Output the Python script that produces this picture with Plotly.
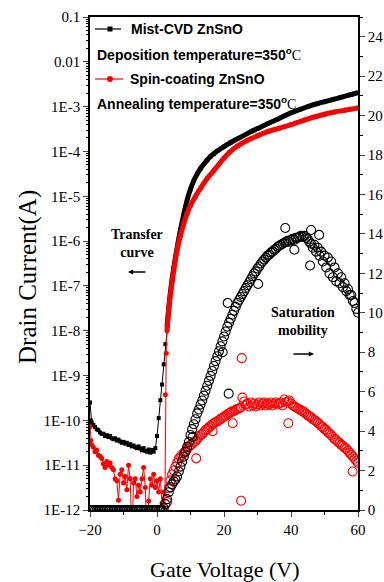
import plotly.graph_objects as go

SERIF = "Liberation Serif, Times New Roman, serif"
SANS = "Liberation Sans, Arial, sans-serif"

# ---------------- Transfer curves (left axis, log10 of drain current in A) ----------------
mist_vg = [-20, -19.75, -19.5, -19, -18.5, -18, -17.5, -17, -16.5, -16,
           -15.5, -15, -14.5, -14, -13.5, -13, -12.5, -12, -11.5, -11,
           -10.5, -10, -9.5, -9, -8.5, -8, -7.5, -7, -6.5, -6,
           -5.5, -5, -4.5, -4, -3.5, -3, -2.5, -2, -1.5, -1,
           -0.5, 0, 0.5, 1, 1.5, 2, 2.5, 3, 3.5, 4, 4.5, 5,
           6, 7, 8, 9, 10, 11, 12, 13, 14, 15,
           16, 17, 18, 20, 22, 25, 28, 30, 33, 36, 40, 42.5, 45, 48, 50, 52.5, 55, 58, 60]
mist_log_id = [-9.6, -10.0,
               -10.05, -10.1, -10.15, -10.2, -10.22, -10.27, -10.3, -10.3, -10.35, -10.33,
               -10.37, -10.35, -10.4, -10.42, -10.4, -10.45, -10.43, -10.47, -10.5, -10.48,
               -10.52, -10.5, -10.55, -10.53, -10.58, -10.56, -10.6, -10.62, -10.58, -10.63,
               -10.67, -10.62, -10.68, -10.7, -10.65, -10.72, -10.66, -10.7, -10.62, -10.35,
               -9.95, -9.55, -9.2, -8.75, -8.3, -7.9, -7.5, -7.15, -6.85, -6.6,
               -6.15, -5.75, -5.4, -5.08, -4.84, -4.65, -4.5, -4.38, -4.28, -4.19,
               -4.11, -4.05, -3.99, -3.89, -3.8, -3.68, -3.56, -3.49, -3.38, -3.28, -3.14, -3.07,
               -3.0, -2.93, -2.89, -2.84, -2.79, -2.73, -2.69]

spin_vg = [-20, -19.75, -19.5, -19, -18.5, -18, -17.5, -17, -16.5, -16,
           -15.5, -15, -14.5, -14, -13.5, -13, -12.5, -12, -11.5, -11,
           -10.5, -10, -9.5, -9, -8.5, -8, -7.5, -7, -6.5, -6,
           -5.5, -5, -4.5, -4, -3.5, -3, -2.5, -2, -1.5, -1,
           -0.5, 0, 0.5, 1, 1.5, 2, 2.25, 2.5, 2.75, 3,
           3.5, 4, 4.5, 5, 6, 7, 8, 9, 10, 11.5,
           13, 15, 17, 20, 21.6, 24, 27, 30, 33, 36.5,
           40, 44, 47.5, 50, 53, 56, 60]
spin_log_id = [-10.14, -10.45, -10.55, -10.6, -10.7, -10.66, -10.78, -10.8, -10.85, -10.97,
               -11.05, -10.92, -11.0, -10.95, -11.05, -11.1, -11.3, -11.35, -11.78, -11.2,
               -11.1, -11.4, -11.25, -11.55, -11.0, -11.3, -12.6, -11.4, -11.3, -11.7,
               -11.45, -11.6, -11.3, -11.05, -11.5, -12.6, -11.8, -11.3, -11.45, -11.2,
               -11.5, -11.35, -11.6, -11.3, -11.85, -11.6, -12.8, -9.43, -8.5, -8.0,
               -7.55, -7.2, -6.9, -6.65, -6.2, -5.88, -5.6, -5.38, -5.2, -5.0,
               -4.82, -4.6, -4.42, -4.15, -4.02, -3.88, -3.75, -3.65, -3.56, -3.48,
               -3.4, -3.3, -3.22, -3.17, -3.12, -3.08, -3.03]

# ---------------- Saturation mobility (right axis, cm2/Vs) ----------------
mobility_vg = [-20, -19.5, -19, -18.5, -18, -17.5, -17, -16.5, -16, -15.5,
               -15, -14.5, -14, -13.5, -13, -12.5, -12, -11.5, -11, -10.5,
               -10, -9.5, -9, -8.5, -8, -7.5, -7, -6.5, -6, -5.5,
               -5, -4.5, -4, -3.5, -3, -2.5, -2, -1.5, -1, -0.5,
               0, 0.5, 1, 1.5,
               2, 2.5, 3, 3.5, 4, 4.5, 5, 5.5, 6, 6.5,
               7, 7.5, 8, 8.5, 9, 9.5, 10, 10.5, 11, 11.5,
               12, 12.5, 13, 13.5, 14, 14.5, 15, 15.5, 16, 16.5,
               17, 17.5, 18, 18.5, 19, 19.5, 20, 20.5, 21, 21.5,
               22, 22.5, 23, 23.5, 24, 24.5, 25, 25.5, 26, 26.5,
               27, 27.5, 28, 28.5, 29, 29.5, 30, 30.5, 31, 31.5,
               32, 32.5, 33, 33.5, 34, 34.5, 35, 35.5, 36, 36.5,
               37, 37.5, 38, 38.5, 39, 39.5, 40, 40.5, 41, 41.5,
               42, 42.5, 43, 43.5, 44, 44.5, 45, 45.5, 46, 46.5,
               47, 47.5, 48, 48.5, 49, 49.5, 50, 50.5, 51, 51.5,
               52, 52.5, 53, 53.5, 54, 54.5, 55, 55.5, 56, 56.5,
               57, 57.5, 58, 58.5, 59, 59.5, 60]
mist_mobility = [0, 0, 0, 0, 0, 0, 0, 0, 0, 0,
                 0, 0, 0, 0, 0, 0, 0, 0, 0, 0,
                 0, 0, 0, 0, 0, 0, 0, 0, 0, 0,
                 0, 0, 0, 0, 0, 0, 0, 0, 0, 0,
                 0, 0, 0, 0,
                 0.1, 0.3, 0.55, 0.9, 1.15, 1.3, 1.45, 1.55, 1.7, 1.95,
                 2.2, 2.45, 2.7, 2.95, 3.2, 3.45, 3.8, 4.1, 4.35, 4.6,
                 4.9, 5.1, 5.35, 5.55, 5.8, 6.05, 6.3, 6.55, 6.8, 7.05,
                 7.3, 7.55, 7.8, 8.05, 8.3, 8.55, 8.8, 9.05, 9.3, 9.5,
                 9.7, 9.9, 10.1, 10.3, 10.5, 10.65, 10.8, 10.95, 11.1, 11.25,
                 11.4, 11.55, 11.7, 11.85, 12.0, 12.1, 12.25, 12.35, 12.5, 12.6,
                 12.7, 12.8, 12.9, 12.95, 13.05, 13.1, 13.2, 13.25, 13.35, 13.4,
                 13.45, 13.5, 13.55, 13.6, 13.65, 13.6, 13.7, 13.75, 13.7, 13.8,
                 13.8, 13.85, 13.9, 13.85, 13.9, 13.8, 13.75, 13.6, 13.5, 13.3,
                 13.45, 13.1, 13.3, 12.9, 13.1, 12.6, 12.9, 12.3, 12.8, 12.0,
                 12.6, 11.8, 12.3, 11.6, 12.0, 11.5, 11.8, 11.3, 11.5, 11.1,
                 11.2, 10.9, 10.9, 10.6, 10.5, 10.2, 10.0]
spin_mobility_vg = mobility_vg[46:]  # sweep points from 3 V onward
spin_mobility = [0.4, 1.1, 1.5, 1.8, 2.0, 2.2, 2.4, 2.6, 2.7, 2.8,
                 2.9, 3.0, 3.1, 3.2, 3.3, 3.35, 3.45, 3.5, 3.6, 3.7,
                 3.8, 3.85, 3.95, 4.05, 4.1, 4.2, 4.25, 4.35, 4.4, 4.45,
                 4.5, 4.55, 4.62, 4.68, 4.72, 4.78, 4.85, 4.9, 4.95, 5.0,
                 5.02, 5.08, 5.12, 5.15, 5.2, 5.7, 5.5, 5.35, 5.4, 5.25,
                 5.45, 5.3, 5.4, 5.25, 5.35, 5.45, 5.3, 5.4, 5.45, 5.3,
                 5.4, 5.35, 5.45, 5.3, 5.4, 5.45, 5.35, 5.4, 5.45, 5.3,
                 5.6, 5.45, 5.5, 5.55, 5.4, 5.3, 5.25, 5.2, 5.15, 5.1,
                 5.05, 5.0, 4.95, 4.88, 4.8, 4.75, 4.7, 4.6, 4.55, 4.5,
                 4.42, 4.35, 4.25, 4.2, 4.1, 4.05, 3.95, 3.88, 3.8, 3.7,
                 3.6, 3.55, 3.45, 3.4, 3.3, 3.25, 3.15, 3.1, 3.0, 2.9,
                 2.8, 2.7, 2.6, 2.5, 2.4]

# scattered outlying mobility points
mist_outlier_vg = [10.6, 19.6, 21.4, 21.1, 30.2, 38.3, 41.0, 45.7, 46.0, 48.4]
mist_outlier_mu = [3.7, 8.0, 5.9, 10.5, 11.46, 14.3, 13.2, 12.4, 14.2, 13.95]
spin_outlier_vg = [11.7, 16.6, 22.6, 25.3, 25.1, 39.2, 58.4]
spin_outlier_mu = [2.62, 4.0, 4.4, 7.7, 0.47, 4.4, 1.95]

# tick labels
left_tickvals = [1e-1, 1e-2, 1e-3, 1e-4, 1e-5, 1e-6, 1e-7, 1e-8, 1e-9, 1e-10, 1e-11, 1e-12]
left_ticktext = ["0.1", "0.01", "1E-3", "1E-4", "1E-5", "1E-6", "1E-7", "1E-8",
                 "1E-9", "1E-10", "1E-11", "1E-12"]
x_tickvals = [-20, 0, 20, 40, 60]
right_tickvals = [0, 2, 4, 6, 8, 10, 12, 14, 16, 18, 20, 22, 24]

mist_id = [10 ** v for v in mist_log_id]
spin_id = [10 ** v for v in spin_log_id]
mist_on = [(v, i) for v, i in zip(mist_vg, mist_id) if v >= 3]
spin_on = [(v, i) for v, i in zip(spin_vg, spin_id) if v >= 3]

fig = go.Figure()

# mobility (right axis)
circ = dict(symbol="circle-open", size=9, line=dict(width=1.1))
fig.add_trace(go.Scatter(x=spin_mobility_vg, y=spin_mobility, mode="markers", yaxis="y2",
                         marker=dict(color="#ff0000", **circ), showlegend=False))
fig.add_trace(go.Scatter(x=spin_outlier_vg, y=spin_outlier_mu, mode="markers", yaxis="y2",
                         marker=dict(color="#ff0000", **circ), showlegend=False))
fig.add_trace(go.Scatter(x=mobility_vg, y=mist_mobility, mode="markers", yaxis="y2",
                         marker=dict(color="#000000", **circ), showlegend=False))
fig.add_trace(go.Scatter(x=mist_outlier_vg, y=mist_outlier_mu, mode="markers", yaxis="y2",
                         marker=dict(color="#000000", **circ), showlegend=False))

# transfer curves (left axis)
fig.add_trace(go.Scatter(x=mist_vg, y=mist_id, mode="lines+markers",
                         line=dict(color="#000000", width=1),
                         marker=dict(symbol="square", size=4, color="#000000"),
                         name="Mist-CVD ZnSnO", showlegend=False))
fig.add_trace(go.Scatter(x=[p[0] for p in mist_on], y=[p[1] for p in mist_on], mode="lines",
                         line=dict(color="#000000", width=5, shape="spline", smoothing=0.8),
                         showlegend=False))
fig.add_trace(go.Scatter(x=spin_vg, y=spin_id, mode="lines+markers",
                         line=dict(color="#ff0000", width=1),
                         marker=dict(symbol="circle", size=5, color="#ff0000"),
                         name="Spin-coating ZnSnO", showlegend=False))
fig.add_trace(go.Scatter(x=[p[0] for p in spin_on], y=[p[1] for p in spin_on], mode="lines",
                         line=dict(color="#ff0000", width=5, shape="spline", smoothing=0.8),
                         showlegend=False))

# plot area in window pixels (body margin is removed below)
L, R, T, B = 90, 358, 17, 510
W, H = 384, 582


def px(xp):  # window pixel -> paper x
    return (xp - L) / (R - L)


def py(yp):  # window pixel -> paper y
    return (B - yp) / (B - T)


ann = []
leg_font = dict(family=SANS, size=14, color="black", weight="bold")
degC = "350<sup>o</sup><span style='font-family:Liberation Serif;font-weight:normal'>C</span>"
ann.append(dict(x=px(129), y=py(29), text="Mist-CVD ZnSnO"))
ann.append(dict(x=px(95), y=py(54), text="Deposition temperature=" + degC))
ann.append(dict(x=px(128), y=py(79), text="Spin-coating ZnSnO"))
ann.append(dict(x=px(95), y=py(103), text="Annealing temperature=" + degC))
for a in ann:
    a.update(xref="paper", yref="paper", showarrow=False, font=leg_font,
             xanchor="left", yanchor="middle")

lab_font = dict(family=SERIF, size=14, color="black", weight="bold")
ann.append(dict(x=px(137), y=py(243), text="Transfer<br>curve", xref="paper", yref="paper",
                xanchor="center", yanchor="middle",
                showarrow=False, font=lab_font, align="center"))
ann.append(dict(x=px(303), y=py(321), text="Saturation<br>mobility", xref="paper", yref="paper",
                xanchor="center", yanchor="middle",
                showarrow=False, font=lab_font, align="center"))
ann.append(dict(x=px(128), y=py(272), ax=19, ay=0, text="", xref="paper", yref="paper",
                showarrow=True, arrowhead=2, arrowsize=0.8, arrowwidth=1.3, arrowcolor="black"))
ann.append(dict(x=px(314), y=py(354), ax=-22, ay=0, text="", xref="paper", yref="paper",
                showarrow=True, arrowhead=2, arrowsize=0.8, arrowwidth=1.3, arrowcolor="black"))
# axis titles
ann.append(dict(x=px(28), y=py(277), text="Drain Current(A)", textangle=-90, xref="paper", yref="paper",
                xanchor="center", yanchor="middle",
                showarrow=False, font=dict(family=SERIF, size=25, color="black")))
ann.append(dict(x=px(224), y=py(569), text="Gate Voltage (V)", xref="paper", yref="paper",
                xanchor="center", yanchor="middle",
                showarrow=False, font=dict(family=SERIF, size=22, color="black")))

shapes = [
    dict(type="line", xref="paper", yref="paper", x0=px(95), x1=px(121), y0=py(29), y1=py(29),
         line=dict(color="black", width=1.2)),
    dict(type="rect", xref="paper", yref="paper", xsizemode="pixel", ysizemode="pixel",
         xanchor=px(110), yanchor=py(29), x0=-2.5, x1=2.5, y0=-2.5, y1=2.5,
         fillcolor="black", line=dict(width=0)),
    dict(type="line", xref="paper", yref="paper", x0=px(95), x1=px(123), y0=py(79), y1=py(79),
         line=dict(color="#ff0000", width=1.2)),
    dict(type="circle", xref="paper", yref="paper", xsizemode="pixel", ysizemode="pixel",
         xanchor=px(110), yanchor=py(79), x0=-3, x1=3, y0=-3, y1=3,
         fillcolor="#ff0000", line=dict(width=0)),
]

tickfont = dict(family=SERIF, size=15, color="black")
fig.update_layout(
    width=W, height=H,
    margin=dict(l=L, r=W - R, t=T, b=H - B, autoexpand=False),
    paper_bgcolor="white", plot_bgcolor="white",
    showlegend=False,
    annotations=ann, shapes=shapes,
    xaxis=dict(range=[-20, 60], tickvals=x_tickvals, ticks="outside", ticklen=5, tickwidth=1.2,
               showline=True, linecolor="black", linewidth=1.5, mirror=True, showgrid=False,
               zeroline=False, tickfont=tickfont, automargin=False,
               minor=dict(ticks="outside", ticklen=3, dtick=10, tickcolor="black", showgrid=False)),
    yaxis=dict(type="log", range=[-12, -1], tickvals=left_tickvals, ticktext=left_ticktext,
               ticks="outside", ticklen=5, tickwidth=1.2, showline=True, linecolor="black",
               linewidth=1.5, showgrid=False, zeroline=False, tickfont=tickfont, automargin=False,
               minor=dict(ticks="outside", ticklen=2, dtick="D1", tickcolor="black", showgrid=False)),
    yaxis2=dict(overlaying="y", side="right", range=[0, 25], tickvals=right_tickvals,
                ticks="outside", ticklen=5, tickwidth=1.2, showline=True, linecolor="black",
                linewidth=1.5, showgrid=False, zeroline=False, tickfont=tickfont, automargin=False,
                minor=dict(ticks="outside", ticklen=3, dtick=1, tickcolor="black", showgrid=False)),
)

fig.write_html("out.html",
               config={"displayModeBar": False},
               post_script="document.body.style.margin='0';document.body.style.overflow='hidden';"
                           "document.documentElement.style.overflow='hidden';")
